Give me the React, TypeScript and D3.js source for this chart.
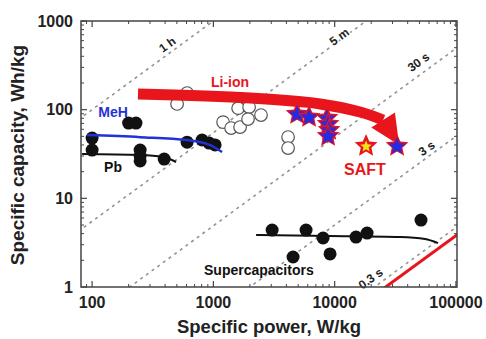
import React, { useEffect } from 'react';
import * as d3 from 'd3';

// ---------- data ----------
const xMajorTicks = [100, 1000, 10000, 100000];
const yMajorTicks = [1, 10, 100, 1000];

// constant discharge-time lines: capacity = power * hours
const timeLineLabels = ['1 h', '5 m', '30 s', '3 s', '0.3 s'];
const timeLineHours = [1.0, 0.055, 0.0049, 0.0005, 0.000047];
const timeLabelPower = [457, 11300, 55600, 62400, 21900];
const redLineHours = 0.000038;

// MeH (black dots near blue fit)
const mehPower = [100, 200, 230, 607, 807, 923, 1033];
const mehCapacity = [47.8, 70.6, 70.6, 43, 45.5, 42, 40];
const mehFitPower = [91, 249, 607, 940, 1180];
const mehFitCapacity = [51.7, 49, 45.5, 39.9, 33.3];

// Pb
const pbPower = [100, 249, 249, 249, 393];
const pbCapacity = [35, 35, 30, 26.4, 27.7];
const pbFitPower = [82.7, 249, 385, 492];
const pbFitCapacity = [31.6, 30.8, 29.2, 25.7];

// Li-ion (open circles)
const liPower = [502, 607, 1202, 1400, 1600, 1660, 1970, 1930, 2470, 4130, 4130];
const liCapacity = [116, 154, 72.4, 62, 104, 63.7, 107, 78.3, 86.9, 49.1, 36.9];

// Li-ion stars
const starPower = [4900, 6150, 8650, 8830, 9000, 8830, 32700];
const starCapacity = [89.2, 82.6, 80.4, 68.9, 58.9, 50.4, 38.9];
const saftPower = [18150];
const saftCapacity = [38.9];

// Supercapacitors
const scPower = [3050, 5810, 8020, 9160, 4540, 15000, 18500, 51500];
const scCapacity = [4.39, 4.39, 3.57, 2.36, 2.18, 3.66, 4.06, 5.69];
const scFitPower = [2250, 9160, 34600, 55600, 71100];
const scFitCapacity = [3.86, 3.76, 3.66, 3.48, 3.13];

// Li-ion trend arrow
const arrowPower = [239, 2010, 7590, 16200, 25100];
const arrowCapacity = [150, 135, 116, 94, 76.4];
const arrowTipPower = 33970;
const arrowTipCapacity = 39.9;

// ---------- layout ----------
const W = 486;
const H = 339;
const L = 81, R = 457, T = 21, B = 287;
const FONT = '"Liberation Sans", Arial, Helvetica, sans-serif';
const RED = '#e8161c';
const BLUE = '#1f33d6';

function starPath(cx: number, cy: number, ro: number, ri: number) {
  const pts: string[] = [];
  for (let i = 0; i < 10; i++) {
    const a = -Math.PI / 2 + (i * Math.PI) / 5;
    const rr = i % 2 === 0 ? ro : ri;
    pts.push(`${cx + rr * Math.cos(a)},${cy + rr * Math.sin(a)}`);
  }
  return 'M' + pts.join('L') + 'Z';
}

export default function App() {
  useEffect(() => {
    document.body.style.margin = '0';
  }, []);

  const x = d3.scaleLog().domain([81, 102000]).range([L, R]);
  const y = d3.scaleLog().domain([1, 1000]).range([B, T]);

  const zip = (a: number[], b: number[]) => a.map((v, i) => [v, b[i]] as [number, number]);
  const fitLine = d3
    .line<[number, number]>()
    .x((d) => x(d[0]))
    .y((d) => y(d[1]))
    .curve(d3.curveMonotoneX);
  const arrowLine = d3
    .line<[number, number]>()
    .x((d) => x(d[0]))
    .y((d) => y(d[1]))
    .curve(d3.curveCatmullRom);

  const angle = (Math.atan2(y(1) - y(10), x(10) - x(1)) * 180) / Math.PI;

  // minor ticks
  const xMinor: number[] = [];
  const yMinor: number[] = [];
  for (let k = 1; k <= 5; k++)
    for (let m = 2; m <= 9; m++) {
      const v = m * Math.pow(10, k);
      if (v > 81 && v < 102000) xMinor.push(v);
    }
  for (let k = 0; k <= 2; k++)
    for (let m = 2; m <= 9; m++) yMinor.push(m * Math.pow(10, k));

  const pMin = 50, pMax = 200000;

  // arrow head geometry
  const endPx = [x(arrowPower[arrowPower.length - 1]), y(arrowCapacity[arrowCapacity.length - 1])];
  const tipPx = [x(arrowTipPower), y(arrowTipCapacity)];
  const dx = tipPx[0] - endPx[0], dy = tipPx[1] - endPx[1];
  const len = Math.hypot(dx, dy);
  const px = -dy / len, py = dx / len;
  const hw = 14;
  const head = `M${endPx[0] + px * hw},${endPx[1] + py * hw}L${tipPx[0]},${tipPx[1]}L${endPx[0] - px * hw},${endPx[1] - py * hw}Z`;

  return (
    <svg width={W} height={H} style={{ display: 'block', position: 'absolute', left: 0, top: 0 }} fontFamily={FONT}>
      <rect x={0} y={0} width={W} height={H} fill="#fff" />
      <defs>
        <clipPath id="plotClip">
          <rect x={L} y={T} width={R - L} height={B - T} />
        </clipPath>
      </defs>

      <g clipPath="url(#plotClip)">
        {timeLineHours.map((h, i) => (
          <line
            key={'tl' + i}
            x1={x(pMin)}
            y1={y(pMin * h)}
            x2={x(pMax)}
            y2={y(pMax * h)}
            stroke="#949494"
            strokeWidth={1.6}
            strokeDasharray="3,4"
          />
        ))}
        <line
          x1={x(pMin)}
          y1={y(pMin * redLineHours)}
          x2={x(pMax)}
          y2={y(pMax * redLineHours)}
          stroke={RED}
          strokeWidth={3}
        />
      </g>

      {/* time line labels */}
      {timeLineLabels.map((lab, i) => {
        const p = timeLabelPower[i];
        const cx = x(p), cy = y(p * timeLineHours[i]);
        const off = [8, 3, 11, 7.5, 9][i];
        const a = (angle * Math.PI) / 180;
        const lx = cx - Math.sin(a) * off;
        const ly = cy - Math.cos(a) * off;
        return (
          <text
            key={'tlab' + i}
            transform={`translate(${lx},${ly}) rotate(${-angle})`}
            textAnchor="middle"
            dominantBaseline="central"
            fontSize={12}
            fontWeight="bold"
            fill="#222"
            stroke="#fff"
            strokeWidth={3}
            paintOrder="stroke"
          >
            {lab}
          </text>
        );
      })}

      {/* fits */}
      <path d={fitLine(zip(pbFitPower, pbFitCapacity)) || ''} fill="none" stroke="#111" strokeWidth={2} />
      <path d={fitLine(zip(scFitPower, scFitCapacity)) || ''} fill="none" stroke="#111" strokeWidth={2} />

      {/* points */}
      {zip(pbPower, pbCapacity).map((d, i) => (
        <circle key={'pb' + i} cx={x(d[0])} cy={y(d[1])} r={6.5} fill="#111" />
      ))}
      {zip(mehPower, mehCapacity).map((d, i) => (
        <circle key={'meh' + i} cx={x(d[0])} cy={y(d[1])} r={6.5} fill="#111" />
      ))}
      <path d={fitLine(zip(mehFitPower, mehFitCapacity)) || ''} fill="none" stroke={BLUE} strokeWidth={2.5} />
      {zip(scPower, scCapacity).map((d, i) => (
        <circle key={'sc' + i} cx={x(d[0])} cy={y(d[1])} r={6.5} fill="#111" />
      ))}
      {zip(liPower, liCapacity).map((d, i) => (
        <circle key={'li' + i} cx={x(d[0])} cy={y(d[1])} r={6.3} fill="#fff" stroke="#555" strokeWidth={1.2} />
      ))}

      {/* arrow */}
      <path d={arrowLine(zip(arrowPower, arrowCapacity)) || ''} fill="none" stroke={RED} strokeWidth={11} />
      <path d={head} fill={RED} />

      {/* stars */}
      {zip(starPower, starCapacity).map((d, i) => (
        <g key={'st' + i}>
          <path d={starPath(x(d[0]), y(d[1]), 12, 5.6)} fill={RED} />
          <path d={starPath(x(d[0]), y(d[1]) + 0.4, 9.5, 4.4)} fill="#5a20b0" />
          <path d={starPath(x(d[0]), y(d[1]) + 0.6, 6.5, 3)} fill="#1e2ee8" />
        </g>
      ))}
      {zip(saftPower, saftCapacity).map((d, i) => (
        <g key={'saft' + i}>
          <path d={starPath(x(d[0]), y(d[1]), 12, 5.6)} fill={RED} />
          <path d={starPath(x(d[0]), y(d[1]) + 0.5, 6, 2.7)} fill="#f4e21a" />
        </g>
      ))}

      {/* annotations */}
      <text x={230} y={87} textAnchor="middle" fontSize={14} fontWeight="bold" fill={RED}>Li-ion</text>
      <text x={113} y={117} textAnchor="middle" fontSize={14} fontWeight="bold" fill={BLUE}>MeH</text>
      <text x={113} y={172} textAnchor="middle" fontSize={14} fontWeight="bold" fill="#111">Pb</text>
      <text x={365} y={175} textAnchor="middle" fontSize={16} fontWeight="bold" fill={RED}>SAFT</text>
      <text x={204} y={275} textAnchor="start" fontSize={14} fontWeight="bold" fill="#111">Supercapacitors</text>

      {/* frame and ticks */}
      <rect x={L} y={T} width={R - L} height={B - T} fill="none" stroke="#444" strokeWidth={1.5} />
      {xMajorTicks.map((v) => (
        <g key={'xM' + v}>
          <line x1={x(v)} x2={x(v)} y1={B} y2={B - 6} stroke="#444" strokeWidth={1.2} />
          <line x1={x(v)} x2={x(v)} y1={T} y2={T + 6} stroke="#444" strokeWidth={1.2} />
          <text x={x(v)} y={308} textAnchor="middle" fontSize={16} fontWeight="bold" fill="#222">{v}</text>
        </g>
      ))}
      {xMinor.map((v) => (
        <g key={'xm' + v}>
          <line x1={x(v)} x2={x(v)} y1={B} y2={B - 3} stroke="#444" strokeWidth={1} />
          <line x1={x(v)} x2={x(v)} y1={T} y2={T + 3} stroke="#444" strokeWidth={1} />
        </g>
      ))}
      {yMajorTicks.map((v) => (
        <g key={'yM' + v}>
          <line x1={L} x2={L + 6} y1={y(v)} y2={y(v)} stroke="#444" strokeWidth={1.2} />
          <line x1={R} x2={R - 6} y1={y(v)} y2={y(v)} stroke="#444" strokeWidth={1.2} />
          <text x={73} y={y(v)} dy="0.36em" textAnchor="end" fontSize={16} fontWeight="bold" fill="#222">{v}</text>
        </g>
      ))}
      {yMinor.map((v) => (
        <g key={'ym' + v}>
          <line x1={L} x2={L + 3} y1={y(v)} y2={y(v)} stroke="#444" strokeWidth={1} />
          <line x1={R} x2={R - 3} y1={y(v)} y2={y(v)} stroke="#444" strokeWidth={1} />
        </g>
      ))}

      {/* axis titles */}
      <text x={269} y={333} textAnchor="middle" fontSize={18.5} fontWeight="bold" fill="#222">Specific power, W/kg</text>
      <text transform="translate(24,155) rotate(-90)" textAnchor="middle" fontSize={19} fontWeight="bold" fill="#222">Specific capacity, Wh/kg</text>
    </svg>
  );
}
